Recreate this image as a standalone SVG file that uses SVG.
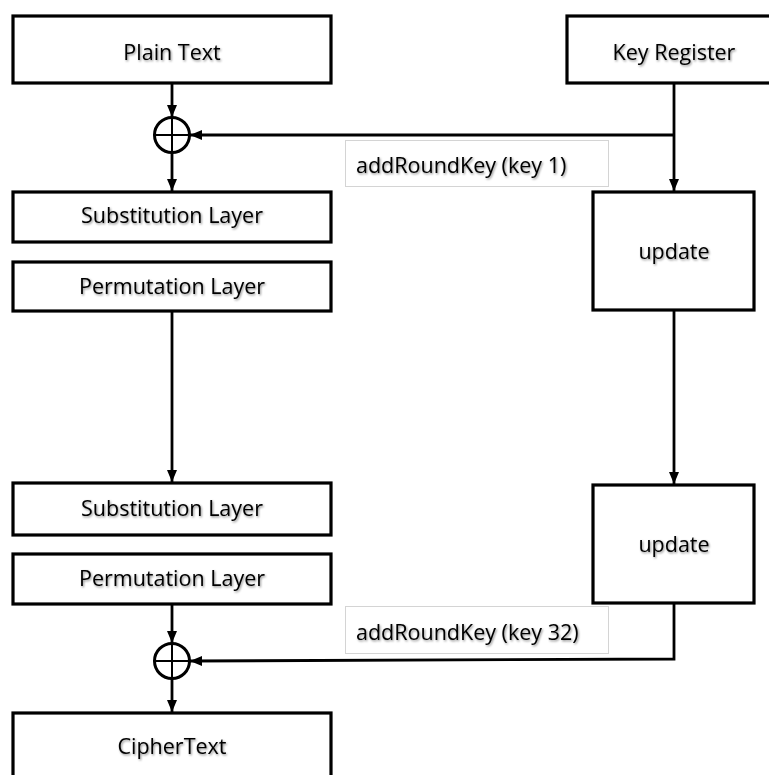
<svg xmlns="http://www.w3.org/2000/svg" width="769" height="775" viewBox="0 0 769 775">
<style>
.box{fill:#fff;stroke:#000;stroke-width:3.2}
.lbl{fill:#fff;stroke:#d4d4d4;stroke-width:1}
.t{font-family:"Open Sans","Liberation Sans",sans-serif;font-size:21.5px;fill:#000;filter:url(#sh)}
.c{text-anchor:middle}
.ln{fill:none;stroke:#000;stroke-width:2.8}
.xor{fill:#fff;stroke:#000;stroke-width:3}
.x{stroke:#000;stroke-width:2}
</style>
<defs>
<filter id="sh" x="-10%" y="-30%" width="130%" height="170%">
<feDropShadow dx="1" dy="1.3" stdDeviation="0.9" flood-color="#000" flood-opacity="0.45"/>
</filter>
<marker id="ah" markerUnits="userSpaceOnUse" markerWidth="13" markerHeight="13" viewBox="0 0 13 13" refX="12" refY="6.5" orient="auto">
<path d="M0,1.5 L12,6.5 L0,11.5 Z" fill="#000"/>
</marker>
</defs>
<rect width="769" height="775" fill="#fff"/>

<g id="connectors">
<line class="ln" x1="172" y1="83" x2="172" y2="117" marker-end="url(#ah)"/>
<line class="ln" x1="172" y1="153" x2="172" y2="191" marker-end="url(#ah)"/>
<line class="ln" x1="674" y1="83" x2="674" y2="191" marker-end="url(#ah)"/>
<line class="ln" x1="674" y1="135" x2="190" y2="135" marker-end="url(#ah)"/>
<line class="ln" x1="172" y1="311" x2="172" y2="482" marker-end="url(#ah)"/>
<line class="ln" x1="674" y1="310" x2="674" y2="484" marker-end="url(#ah)"/>
<line class="ln" x1="172" y1="604" x2="172" y2="643" marker-end="url(#ah)"/>
<line class="ln" x1="172" y1="679" x2="172" y2="712" marker-end="url(#ah)"/>
<path class="ln" d="M674,603 V659 L190,661" marker-end="url(#ah)"/>
</g>

<g id="plain-text">
<rect class="box" x="13" y="16" width="318" height="67"/>
<text class="t c" x="172" y="60">Plain Text</text>
</g>
<g id="key-register">
<rect class="box" x="567" y="16" width="220" height="67"/>
<text class="t c" x="674" y="60">Key Register</text>
</g>
<g id="xor1">
<circle class="xor" cx="172" cy="135" r="17.5"/>
<line class="x" x1="154.5" y1="135" x2="189.5" y2="135"/>
<line class="x" x1="172" y1="117.5" x2="172" y2="152.5"/>
</g>
<g id="label1">
<rect class="lbl" x="345.5" y="140.5" width="263" height="46"/>
<text class="t" x="356" y="173">addRoundKey (key 1)</text>
</g>
<g id="sub1">
<rect class="box" x="13" y="192" width="318" height="50"/>
<text class="t c" x="172" y="223">Substitution Layer</text>
</g>
<g id="perm1">
<rect class="box" x="13" y="262" width="318" height="49"/>
<text class="t c" x="172" y="294">Permutation Layer</text>
</g>
<g id="update1">
<rect class="box" x="593" y="192" width="161" height="118"/>
<text class="t c" x="674" y="259">update</text>
</g>
<g id="sub2">
<rect class="box" x="13" y="483" width="318" height="52"/>
<text class="t c" x="172" y="516">Substitution Layer</text>
</g>
<g id="perm2">
<rect class="box" x="13" y="554" width="318" height="50"/>
<text class="t c" x="172" y="586">Permutation Layer</text>
</g>
<g id="update2">
<rect class="box" x="593" y="485" width="161" height="118"/>
<text class="t c" x="674" y="552">update</text>
</g>
<g id="label2">
<rect class="lbl" x="345.5" y="606.5" width="263" height="47"/>
<text class="t" x="356" y="640">addRoundKey (key 32)</text>
</g>
<g id="xor2">
<circle class="xor" cx="172" cy="661" r="17.5"/>
<line class="x" x1="154.5" y1="661" x2="189.5" y2="661"/>
<line class="x" x1="172" y1="643.5" x2="172" y2="678.5"/>
</g>
<g id="ciphertext">
<rect class="box" x="13" y="713" width="318" height="80"/>
<text class="t c" x="172" y="754">CipherText</text>
</g>
</svg>
